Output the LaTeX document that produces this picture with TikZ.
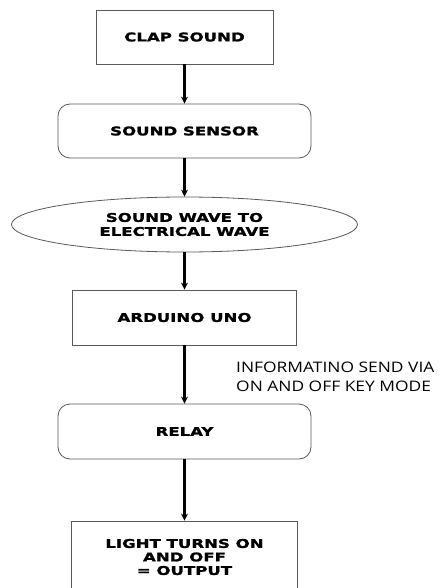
\documentclass[tikz,border=0pt]{standalone}
\usepackage{fontspec}
\usetikzlibrary{shapes.geometric,arrows.meta}
\newfontfamily\boxfont[FakeStretch=1.38,FakeBold=1.6]{DejaVu Sans}
\newfontfamily\labfont[FakeStretch=1.2]{Open Sans}
\begin{document}
\begin{tikzpicture}[x=1pt,y=-1pt,
  blk/.style={draw=black!65, line width=0.8pt, inner sep=0pt, align=center,
    font=\boxfont\bfseries\fontsize{12}{14}\selectfont},
  rbox/.style={blk, rectangle},
  roundbox/.style={blk, rectangle, rounded corners=12pt},
  ellbox/.style={blk, ellipse},
  flow/.style={line width=2.6pt, -{Stealth[length=7pt,width=7pt]}},
  note/.style={font=\labfont\fontsize{14.5}{19}\selectfont, align=left, inner sep=0pt}]
\useasboundingbox (0,0) rectangle (439,588);
\clip (0,0) rectangle (439,588);
\fill[white] (0,0) rectangle (439,588);
\node[rbox, minimum width=177pt, minimum height=54pt] (clap) at (184.5,37) {CLAP SOUND};
\node[roundbox, minimum width=253pt, minimum height=54pt] (sensor) at (184.5,131) {SOUND SENSOR};
\node[ellbox, minimum width=346pt, minimum height=55pt] (wave) at (184.5,224.5) {SOUND WAVE TO\\ELECTRICAL WAVE};
\node[rbox, minimum width=224pt, minimum height=55pt] (uno) at (184.5,317.5) {ARDUINO UNO};
\node[roundbox, minimum width=253pt, minimum height=55pt] (relay) at (184.5,431.5) {RELAY};
\node[rbox, minimum width=226pt, minimum height=72pt, font=\boxfont\bfseries\fontsize{12}{13.5}\selectfont] (light) at (184.5,557) {LIGHT TURNS ON\\AND OFF\\= OUTPUT};
\node[note, anchor=west] (info) at (236,376.5) {INFORMATINO SEND VIA\\ON AND OFF KEY MODE};
\draw[flow] (clap) -- (sensor);
\draw[flow] (sensor) -- (wave);
\draw[flow] (wave) -- (uno);
\draw[flow] (uno) -- (relay);
\draw[flow] (relay) -- (light);
\end{tikzpicture}
\end{document}
